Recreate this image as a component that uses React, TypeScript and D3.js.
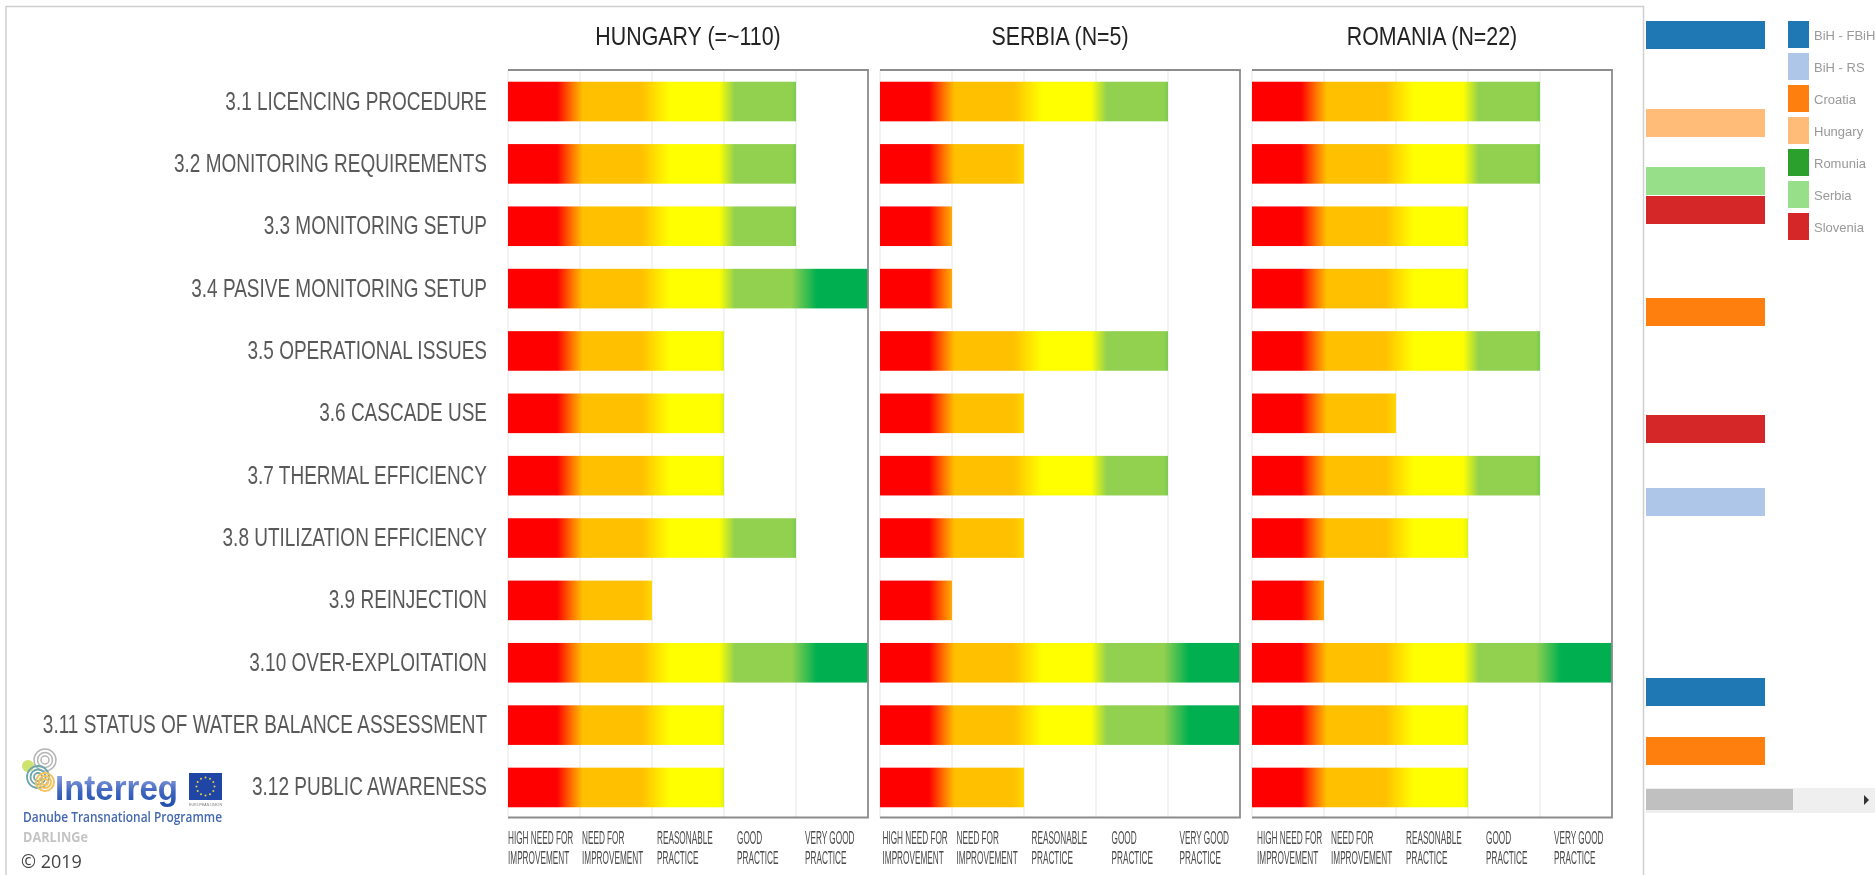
import React from "react";
import * as d3 from "d3";

const W = 1875, H = 875;
const rows = [
  "3.1 LICENCING PROCEDURE", "3.2 MONITORING REQUIREMENTS", "3.3 MONITORING SETUP",
  "3.4 PASIVE MONITORING SETUP", "3.5 OPERATIONAL ISSUES", "3.6 CASCADE USE",
  "3.7 THERMAL EFFICIENCY", "3.8 UTILIZATION EFFICIENCY", "3.9 REINJECTION",
  "3.10 OVER-EXPLOITATION", "3.11 STATUS OF WATER BALANCE ASSESSMENT", "3.12 PUBLIC AWARENESS",
];
const panelTitles = ["HUNGARY (=~110)", "SERBIA (N=5)", "ROMANIA (N=22)"];
const hungary = [4, 4, 4, 5, 3, 3, 3, 4, 2, 5, 3, 3];
const serbia = [4, 2, 1, 1, 4, 2, 4, 2, 1, 5, 5, 2];
const romania = [4, 4, 3, 3, 4, 2, 4, 3, 1, 5, 3, 3];
const panelValues = [hungary, serbia, romania];
const tickLine1 = ["HIGH NEED FOR", "NEED FOR", "REASONABLE", "GOOD", "VERY GOOD"];
const tickLine2 = ["IMPROVEMENT", "IMPROVEMENT", "PRACTICE", "PRACTICE", "PRACTICE"];
const tickShift = [0, 2, 5, 13, 9];
const panelTickShift = [0, 2.5, 5];
const gradPos = [0, 0.68, 0.88, 1.04, 1.85, 2.25, 2.93, 3.15, 3.94, 4.29, 5];
const gradCol = ["#ff0000", "#ff0000", "#ff7000", "#ffc000", "#ffc000", "#ffff00", "#ffff00", "#92d050", "#92d050", "#00b050", "#00b050"];
const legendNames = ["BiH - FBiH", "BiH - RS", "Croatia", "Hungary", "Romunia", "Serbia", "Slovenia"];
const legendColors = ["#1f77b4", "#aec7e8", "#ff7f0e", "#ffbb78", "#2ca02c", "#98df8a", "#d62728"];
const sideCountry = ["BiH - FBiH", "Hungary", "Serbia", "Slovenia", "Croatia", "Slovenia", "BiH - RS", "BiH - FBiH", "Croatia"];
const sideTop = [21, 109, 167, 196, 298, 415, 488, 678, 737];

const panelLefts = [508, 880, 1252];
const panelWidth = 360;
const plotTop = 70, plotBottom = 817.5;
const sans = "'Liberation Sans', sans-serif";

const y = d3.scaleBand<number>().domain(d3.range(12)).range([70.5, 818.5]).paddingInner(0.365).paddingOuter(0.18);
const legendColor = d3.scaleOrdinal<string, string>().domain(legendNames).range(legendColors);
const starAngles = d3.range(12).map((i) => (i * Math.PI) / 6);

function Arcs({ cx, cy, radii, color, width }: { cx: number; cy: number; radii: number[]; color: string; width: number }) {
  return (
    <g fill="none" stroke={color} strokeWidth={width}>
      {radii.map((r) => <circle key={r} cx={cx} cy={cy} r={r} />)}
    </g>
  );
}

export default function App() {
  return (
    <svg width={W} height={H} style={{ position: "absolute", left: 0, top: 0, background: "#fff", filter: "blur(0.7px)" }}>
      <defs>
        {panelLefts.map((l, i) => {
          const x = d3.scaleLinear().domain([0, 5]).range([l, l + panelWidth]);
          return (
            <linearGradient key={i} id={`g${i}`} gradientUnits="userSpaceOnUse" x1={x(0)} x2={x(5)} y1={0} y2={0}>
              {gradPos.map((p, k) => <stop key={k} offset={p / 5} stopColor={gradCol[k]} />)}
            </linearGradient>
          );
        })}
        <linearGradient id="logoFill" x1={0} x2={0} y1={0} y2={1}>
          <stop offset={0} stopColor="#b3bdec" />
          <stop offset={0.6} stopColor="#3f66c0" />
          <stop offset={1} stopColor="#1f4ea8" />
        </linearGradient>
      </defs>
      {/* frame */}
      <path d={`M6 ${H}V6.5H1643.5V${H}`} fill="none" stroke="#cfcfcf" strokeWidth={1.5} />

      {rows.map((r, i) => (
        <text key={r} transform={`translate(487,${y(i)! + y.bandwidth() / 2 + 8}) scale(0.76,1)`} textAnchor="end" fontFamily={sans} fontSize={25} fill="#595959">{r}</text>
      ))}

      {panelLefts.map((l, i) => {
        const x = d3.scaleLinear().domain([0, 5]).range([l, l + panelWidth]);
        return (
          <g key={i}>
            <text transform={`translate(${x(2.5)},45) scale(0.855,1)`} textAnchor="middle" fontFamily={sans} fontSize={25} fill="#222">{panelTitles[i]}</text>
            {d3.range(0, 5).map((t) => (
              <line key={t} x1={x(t)} x2={x(t)} y1={plotTop} y2={plotBottom} stroke="#e6e6e6" />
            ))}
            {panelValues[i].map((v, r) => (
              <rect key={r} x={x(0)} y={y(r)} width={x(v) - x(0)} height={y.bandwidth()} fill={`url(#g${i})`} />
            ))}
            <path d={`M${x(0)} ${plotTop}H${x(5)}V${plotBottom}H${x(0)}`} fill="none" stroke="#8c8c8c" strokeWidth={1.8} />
            {tickLine1.map((t, k) => (
              <g key={k} transform={`translate(${x(k) + tickShift[k] + panelTickShift[i]},0) scale(0.47,1)`} fontFamily={sans} fontSize={17.5} fill="#4a4a4a">
                <text x={0} y={844}>{t}</text>
                <text x={0} y={864}>{tickLine2[k]}</text>
              </g>
            ))}
          </g>
        );
      })}

      {/* side bars */}
      {sideCountry.map((c, i) => (
        <rect key={i} x={1646} y={sideTop[i]} width={119} height={28} fill={legendColor(c)} />
      ))}
      {/* scrollbar */}
      <rect x={1646} y={788} width={229} height={25} fill="#efefef" />
      <rect x={1646} y={789} width={147} height={21} fill="#c0c0c0" />
      <path d="M1864 795l5 5l-5 5z" fill="#333" />
      {/* legend */}
      {legendNames.map((n, i) => (
        <g key={n}>
          <rect x={1788} y={21 + i * 32} width={21} height={27} fill={legendColors[i]} />
          <text x={1814} y={40 + i * 32} fontFamily={sans} fontSize={13} fill="#999">{n}</text>
        </g>
      ))}
      {/* logo */}
      <Arcs cx={45} cy={760} radii={[4, 7.5, 11]} color="#b5b5b5" width={1.5} />
      <circle cx={28} cy={766} r={6} fill="#cde26f" />
      <Arcs cx={38} cy={777} radii={[4, 7.5, 11]} color="#6fa7ad" width={1.8} />
      <Arcs cx={45} cy={782} radii={[3, 6, 9]} color="#f4c35e" width={2} />
      <text x={55} y={800} fontFamily={sans} fontWeight="bold" fontSize={35} fill="url(#logoFill)" textLength={123} lengthAdjust="spacingAndGlyphs">Interreg</text>
      <rect x={189} y={773} width={33} height={27} fill="#1f45a5" />
      {starAngles.map((a, i) => (
        <circle key={i} cx={205.5 + 9 * Math.sin(a)} cy={786.5 - 9 * Math.cos(a)} r={1} fill="#e6d040" />
      ))}
      <text x={189} y={806} fontFamily={sans} fontSize={3.6} fill="#777" textLength={33} lengthAdjust="spacingAndGlyphs">EUROPEAN UNION</text>
      <text x={23} y={822} fontFamily="'Open Sans', sans-serif" fontWeight={600} fontSize={14} fill="#4468b0" textLength={199} lengthAdjust="spacingAndGlyphs">Danube Transnational Programme</text>
      <text x={23} y={842} fontFamily="'Open Sans', sans-serif" fontWeight={700} fontSize={14} fill="#c4c4c4" textLength={65} lengthAdjust="spacingAndGlyphs">DARLINGe</text>
      <text x={21} y={868} fontFamily="'Open Sans', sans-serif" fontSize={18} fill="#444">© 2019</text>
    </svg>
  );
}
